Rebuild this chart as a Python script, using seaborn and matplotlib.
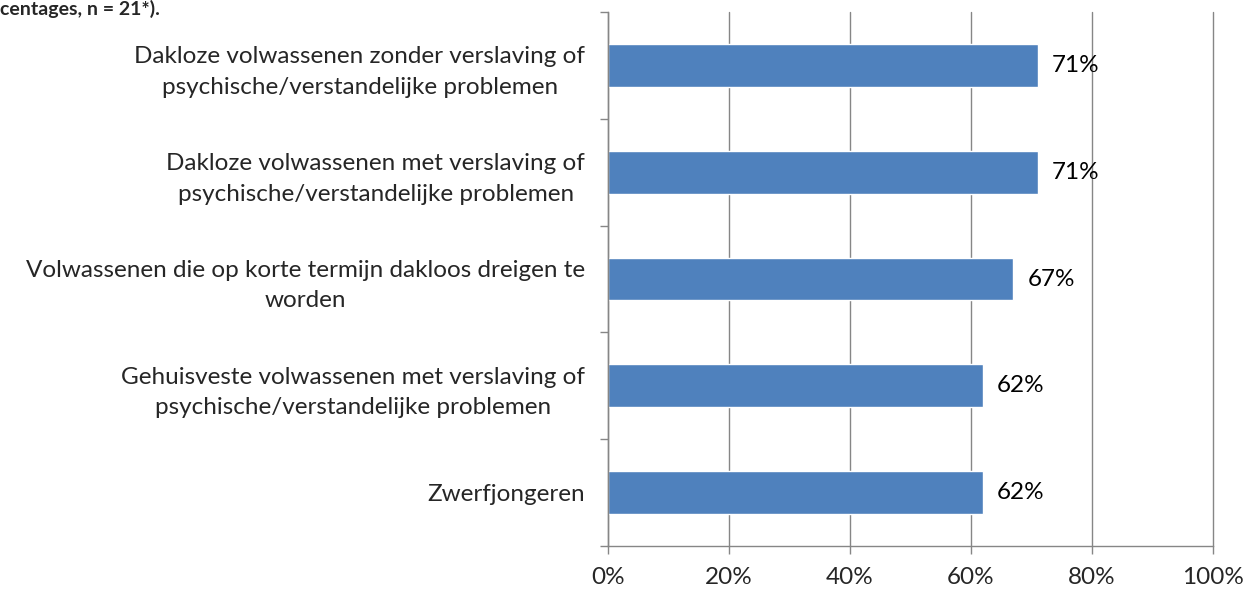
import matplotlib
matplotlib.use('Agg')
import pandas as pd
import seaborn as sns
import matplotlib.pyplot as plt
from matplotlib.ticker import FixedLocator, PercentFormatter

# Gegevens uit de figuur
categorieen = [
    'Dakloze volwassenen zonder verslaving of\npsychische/verstandelijke problemen',
    'Dakloze volwassenen met verslaving of\npsychische/verstandelijke problemen',
    'Volwassenen die op korte termijn dakloos dreigen te\nworden',
    'Gehuisveste volwassenen met verslaving of\npsychische/verstandelijke problemen',
    'Zwerfjongeren',
]
percentages = [71, 71, 67, 62, 62]
xticks = [0, 20, 40, 60, 80, 100]

df = pd.DataFrame({'Doelgroep': categorieen, 'Percentage': percentages})

sns.set_style('white')
plt.rcParams['font.family'] = ['Lato', 'DejaVu Sans']
fs = 17.5

fig = plt.figure(figsize=(12.46, 5.92), dpi=100)
ax = fig.add_axes([0.488, 0.0777, 0.4855, 0.902])

sns.barplot(data=df, y='Doelgroep', x='Percentage', orient='h',
            color='#4F81BD', width=0.4, saturation=1, ax=ax)

# Waardelabels
for i, v in enumerate(percentages):
    ax.text(v + 2.3, i, f'{v}%', va='center', ha='left', fontsize=fs, color='black')

ax.set_xlim(0, 100)
ax.set_ylim(4.5, -0.5)
ax.set_xticks(xticks)
ax.xaxis.set_major_formatter(PercentFormatter(decimals=0))
ax.set_xlabel('')
ax.set_ylabel('')

grijs = '#868686'
ax.grid(axis='x', color=grijs, linewidth=1)
ax.set_axisbelow(True)
for line in ax.get_xgridlines():
    line.set_clip_on(False)
for s in ['top', 'right']:
    ax.spines[s].set_visible(False)
for s in ['left', 'bottom']:
    ax.spines[s].set_color(grijs)
    ax.spines[s].set_linewidth(1)

# Tickmarks op de grenzen tussen categorieen, zoals in Excel
ax.yaxis.set_minor_locator(FixedLocator([-0.5, 0.5, 1.5, 2.5, 3.5, 4.5]))
ax.tick_params(axis='y', which='major', length=0, pad=16.5, labelsize=fs)
ax.tick_params(axis='y', which='minor', length=6, color=grijs, width=1, left=True)
ax.tick_params(axis='x', which='major', length=6, color=grijs, width=1,
               bottom=True, pad=9, labelsize=fs)
for lbl in ax.get_yticklabels():
    lbl.set_horizontalalignment('right')
    lbl.set_multialignment('center')
    lbl.set_linespacing(1.55)

# Titelrest bovenaan
fig.text(0.0, 1.0, 'centages, n = 21*).', fontsize=14,
         fontweight='bold', va='top', ha='left')

fig.savefig('out.png', dpi=100)
